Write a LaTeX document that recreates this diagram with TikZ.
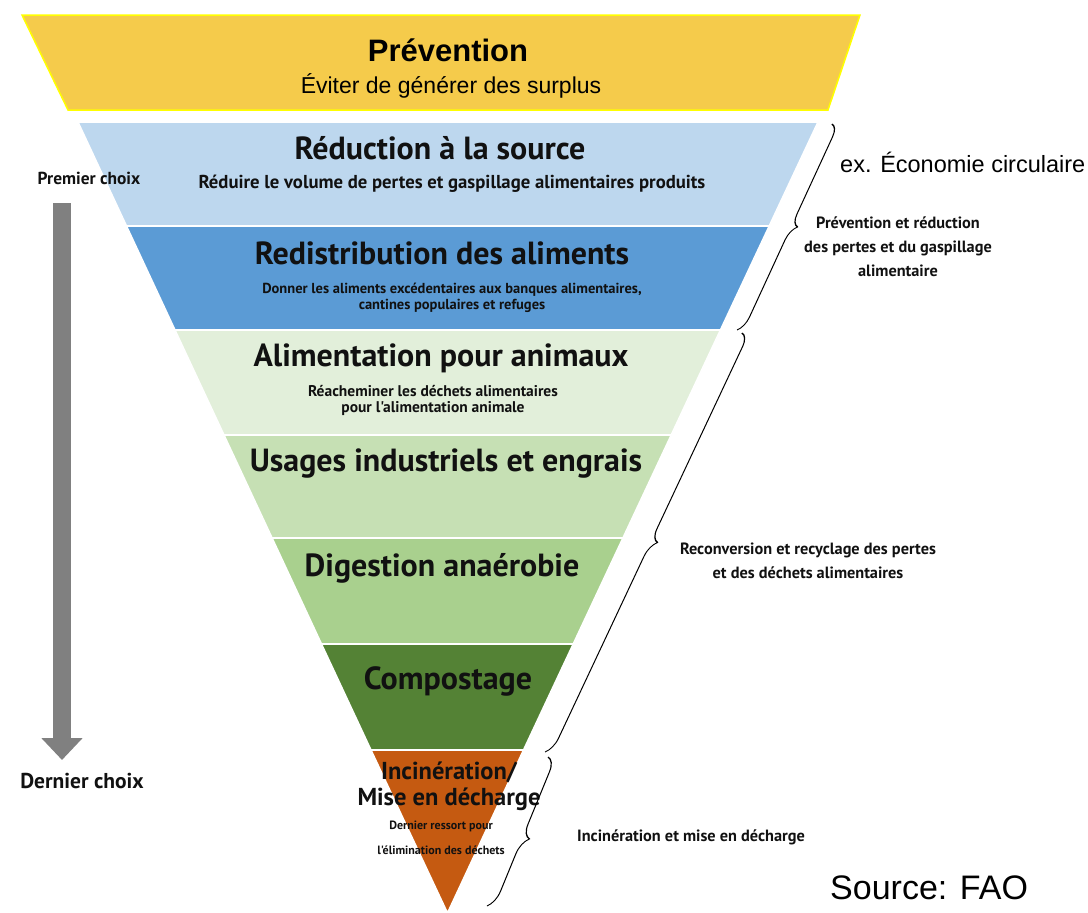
\documentclass[tikz,border=0pt]{standalone}
\usepackage{fontspec}
\setmainfont{Liberation Sans}
\newfontfamily\myr{PT Sans}
\usetikzlibrary{decorations.pathreplacing,arrows.meta}
\definecolor{cprev}{HTML}{F5CB4B}
\definecolor{cyel}{HTML}{FFFF00}
\definecolor{cb1}{HTML}{BDD7EE}
\definecolor{cb2}{HTML}{5B9BD5}
\definecolor{cg1}{HTML}{E2EFDA}
\definecolor{cg2}{HTML}{C6E0B4}
\definecolor{cg3}{HTML}{A9D08E}
\definecolor{cg4}{HTML}{548235}
\definecolor{cor}{HTML}{C55A11}
\definecolor{cgray}{HTML}{808080}
\definecolor{ctxt}{HTML}{111111}
\begin{document}
\begin{tikzpicture}[x=1pt,y=-1pt,
  band/.style={draw=white,line width=1.5pt},
  title/.style={inner sep=0pt,align=center,text=ctxt,font=\myr\bfseries\fontsize{32}{33}\selectfont},
  sub/.style={inner sep=0pt,align=center,text=ctxt,font=\myr\bfseries\fontsize{14.5}{15.5}\selectfont},
  side/.style={inner sep=0pt,align=center,text=ctxt,font=\myr\bfseries\fontsize{16.3}{24}\selectfont},
  bracestyle/.style={decorate,line width=1.1pt,black},
]
\useasboundingbox (0,0) rectangle (1088,913);
\fill[white] (0,0) rectangle (1088,913);

% Prevention trapezoid
\draw[fill=cprev,draw=cyel,line width=1.5pt] (22,15) -- (860,15) -- (828,110) -- (68,110) -- cycle;
\node[inner sep=0pt,font=\bfseries\fontsize{31}{34}\selectfont] (prev) at (448,50) {Prévention};
\node[inner sep=0pt,font=\fontsize{23}{26}\selectfont] (prevsub) at (451,86) {Éviter de générer des surplus};

% bands
\fill[band,fill=cb1] (78,122) -- (818,122) -- (769.2,226) -- (126.5,226) -- cycle;
\fill[band,fill=cb2] (126.5,226) -- (769.2,226) -- (720.4,330) -- (175,330) -- cycle;
\fill[band,fill=cg1] (175,330) -- (720.4,330) -- (671.2,435) -- (224,435) -- cycle;
\fill[band,fill=cg2] (224,435) -- (671.2,435) -- (622.9,538) -- (272.1,538) -- cycle;
\fill[band,fill=cg3] (272.1,538) -- (622.9,538) -- (573.2,644) -- (321.5,644) -- cycle;
\fill[band,fill=cg4] (321.5,644) -- (573.2,644) -- (523.5,750) -- (371,750) -- cycle;
\fill[band,fill=cor] (371,750) -- (523.5,750) -- (447.5,913) -- cycle;
\foreach \yy/\a/\b in {226/126.5/769.2,330/175/720.4,435/224/671.2,538/272.1/622.9,644/321.5/573.2,750/371/523.5}
  \draw[white,line width=1.5pt] (\a,\yy) -- (\b,\yy);

% band texts
\node[title] (t1) at (440,148) {Réduction à la source};
\node[sub,font=\myr\bfseries\fontsize{18.7}{20}\selectfont] (s1) at (452,184) {Réduire le volume de pertes et gaspillage alimentaires produits};
\node[title] (t2) at (442,253) {Redistribution des aliments};
\node[sub] (s2) at (452,298) {Donner les aliments excédentaires aux banques alimentaires,\\cantines populaires et refuges};
\node[title] (t3) at (441,358) {Alimentation pour animaux};
\node[sub,font=\myr\bfseries\fontsize{15.5}{16}\selectfont] (s3) at (433,400) {Réacheminer les déchets alimentaires\\pour l'alimentation animale};
\node[title] (t4) at (446,464) {Usages industriels et engrais};
\node[title] (t5) at (442,568) {Digestion anaérobie};
\node[title] (t6) at (448,681) {Compostage};
\node[title,font=\myr\bfseries\fontsize{24.5}{26}\selectfont] (t7) at (449,786) {Incinération/\\Mise en décharge};
\node[sub,font=\myr\bfseries\fontsize{12}{25}\selectfont] (s7) at (441,838) {Dernier ressort pour\\l'élimination des déchets};

% left arrow
\node[inner sep=0pt,text=ctxt,font=\myr\bfseries\fontsize{17.4}{19}\selectfont] (first) at (89,178) {Premier choix};
\node[inner sep=0pt,text=ctxt,font=\myr\bfseries\fontsize{21.5}{23}\selectfont] (last) at (82,781) {Dernier choix};
\coordinate (atop) at (62,203);
\coordinate (abot) at (62,760);
\draw[cgray,line width=18pt,-{Triangle[width=40pt,length=22pt]}] (atop) -- (abot);

% braces
\begin{scope}[transform canvas={shift={(784.5,227)},xslant=0.461}]
  \draw[bracestyle,decoration={brace,amplitude=13pt,aspect=0.5}] (0,-103) -- (0,103);
\end{scope}
\begin{scope}[transform canvas={shift={(643.5,542.5)},xslant=0.47}]
  \draw[bracestyle,decoration={brace,amplitude=14pt,aspect=0.5}] (0,-209.5) -- (0,209.5);
\end{scope}
\begin{scope}[transform canvas={shift={(517.5,831.5)},xslant=0.41}]
  \draw[bracestyle,decoration={brace,amplitude=15pt,aspect=0.55}] (0,-74.5) -- (0,74.5);
\end{scope}

% right texts
\node[inner sep=0pt,font=\fontsize{23.5}{26}\selectfont,anchor=west] (eco) at (840,162) {ex. Économie circulaire};
\node[side] (r1) at (898,247) {Prévention et réduction\\des pertes et du gaspillage\\alimentaire};
\node[side] (r2) at (808,561) {Reconversion et recyclage des pertes\\et des déchets alimentaires};
\node[side,anchor=west] (r3) at (577,837) {Incinération et mise en décharge};
\node[inner sep=0pt,font=\fontsize{34}{36}\selectfont,anchor=base west] (src) at (830,899) {Source: FAO};
\end{tikzpicture}
\end{document}
